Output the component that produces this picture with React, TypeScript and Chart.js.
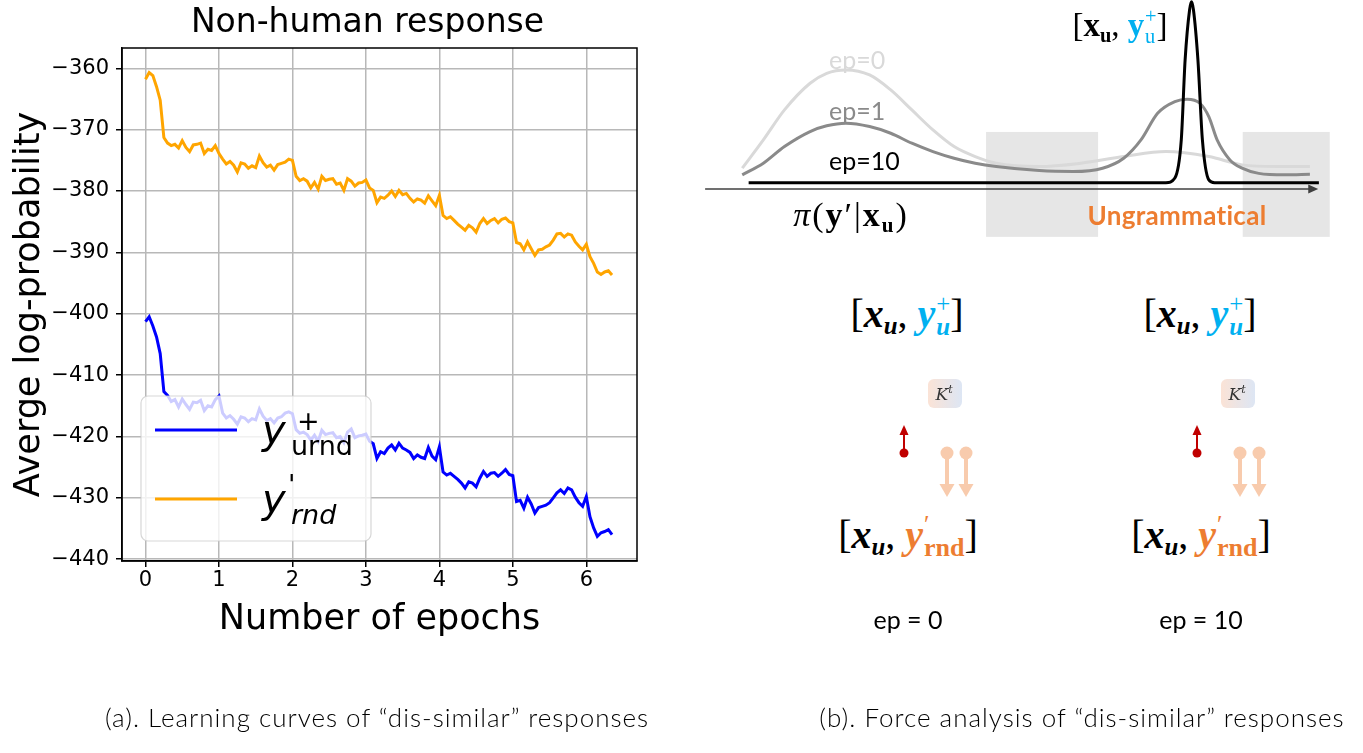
import React, { useEffect, useRef } from "react";
import { Chart, registerables } from "chart.js";

Chart.register(...registerables);

// ---------------- (a) learning curves ----------------
const EPOCH_STEP = 0.05;
const xTickValues = [0, 1, 2, 3, 4, 5, 6];
const yTickValues = [-440, -430, -420, -410, -400, -390, -380, -370, -360];
const X_MIN = -0.32;
const X_MAX = 6.69;
const Y_MIN = -440.3;
const Y_MAX = -356.7;

// y+_urnd (blue)
const urndValues = [
  -401.3, -400.5, -402.0, -403.8, -406.5, -412.7, -413.3, -414.3, -414.0, -415.2,
  -413.9, -414.8, -415.6, -414.4, -414.5, -414.1, -415.8, -415.0, -415.2, -414.0,
  -413.4, -416.2, -417.0, -416.6, -417.2, -418.0, -416.8, -417.0, -417.6, -417.1,
  -417.3, -415.5, -416.7, -417.4, -417.1, -417.8, -417.0, -416.8, -416.2, -416.0,
  -416.3, -418.9, -419.5, -419.3, -419.7, -420.6, -419.8, -420.8, -419.0, -419.7,
  -419.5, -419.4, -420.2, -420.0, -421.0, -419.3, -418.8, -420.2, -419.9, -419.8,
  -419.6, -420.8, -421.2, -423.6, -422.5, -422.8, -421.9, -421.4, -422.2, -421.1,
  -421.9, -422.2, -422.6, -423.6, -423.0, -423.4, -423.6, -421.8, -423.2, -423.8,
  -421.7, -425.8, -426.3, -426.0, -426.5, -427.0, -427.6, -428.4, -427.4, -427.6,
  -428.2, -426.8, -425.7, -426.5, -426.0, -425.9, -426.5, -426.0, -425.4, -426.2,
  -426.4, -430.6, -430.4, -431.7, -429.9, -431.0, -432.5, -431.6, -431.4, -431.2,
  -430.8, -430.0, -429.2, -428.7, -429.3, -428.4, -428.7, -429.9, -430.8, -431.4,
  -429.8, -433.1, -434.9, -436.3, -435.7, -435.5, -435.2, -436.0,
];

// y'_rnd (orange)
const rndValues = [
  -361.8, -360.7, -361.2, -363.0, -365.2, -371.3, -372.2, -372.6, -372.4, -373.0,
  -371.8, -372.9, -373.6, -372.5, -372.4, -372.2, -373.9, -373.2, -373.4, -372.6,
  -373.9, -374.8, -375.6, -375.2, -375.8, -376.9, -375.4, -375.6, -376.3, -375.9,
  -376.2, -374.3, -375.4, -376.1, -375.8, -376.6, -375.7, -375.5, -375.3, -374.8,
  -375.0, -377.6, -378.3, -378.0, -378.4, -379.5, -378.6, -379.7, -377.6, -378.3,
  -378.1, -378.0, -378.9, -378.7, -379.9, -378.0, -378.4, -379.2, -378.7, -378.6,
  -378.2, -379.5, -379.9, -381.9, -381.0, -381.2, -380.7, -380.0, -380.9, -379.9,
  -380.6, -380.4, -381.2, -381.8, -381.3, -381.5, -382.0, -380.8, -381.6, -382.4,
  -380.7, -384.0, -384.5, -384.2, -384.8, -385.4, -385.9, -386.4, -385.6, -386.0,
  -386.7, -385.3, -384.5, -385.3, -384.8, -384.5, -385.2, -384.6, -384.4, -385.0,
  -385.2, -388.4, -388.6, -389.6, -388.3, -389.4, -390.5, -389.6, -389.5, -389.1,
  -388.8, -388.0, -387.0, -386.9, -387.5, -387.0, -387.2, -388.3, -389.0, -389.6,
  -388.7, -390.7, -391.8, -393.2, -393.6, -393.2, -393.0, -393.7,
];

// ---------------- (b) schematic distributions ----------------
const ep0X = [6.6, 9.9, 13.2, 17.2, 19.8, 22.8, 26.5, 29.8, 33.1, 36.4, 39.7, 43.0, 46.3, 53.0, 59.5, 66.2, 72.8, 79.5, 84.7, 90.0, 95.3];
const ep0Y = [11.2, 26.5, 42.7, 57.1, 62.5, 64.3, 61.6, 53.5, 42.7, 31.9, 22.9, 17.5, 13.9, 12.1, 13.9, 17.5, 20.2, 17.5, 13.0, 12.1, 12.1];
const ep1X = [6.6, 9.9, 13.2, 17.2, 19.8, 22.8, 26.5, 29.8, 33.1, 36.4, 39.7, 43.0, 46.3, 53.0, 58.3, 62.9, 66.2, 68.9, 71.5, 74.2, 76.1, 78.1, 79.5, 80.8, 82.8, 84.7, 87.3, 91.4, 95.3];
const ep1Y = [7.6, 13.9, 22.9, 31.0, 34.1, 35.5, 33.7, 30.1, 24.7, 20.2, 16.6, 13.9, 12.1, 9.9, 9.4, 11.2, 16.6, 26.5, 40.9, 47.2, 48.5, 46.3, 39.1, 26.5, 15.7, 11.2, 8.4, 7.6, 7.9];
const ep10X = [7.6, 72.8, 74.2, 75.2, 75.8, 76.5, 76.8, 77.1, 77.8, 78.5, 79.5, 80.4, 96.7];
const ep10Y = [3.4, 3.4, 5.9, 26.5, 69.7, 96.8, 101.1, 96.8, 69.7, 26.5, 4.9, 3.4, 3.4];
const ungrammaticalRegions = [
  { x0: 44.7, x1: 62.2, y0: -25.9, y1: 30.8 },
  { x0: 84.8, x1: 98.4, y0: -25.9, y1: 30.8 },
];
const AXIS_X0 = 0.8;
const AXIS_X1 = 96.6;

const ARIAL = '"DejaVu Sans", sans-serif';

const minus = (v: number) => String(v).replace("-", "\u2212");

const frameTitleLegendPlugin = {
  id: "mplDecor",
  afterDatasetsDraw(chart: any) {
    const { ctx, chartArea: ca } = chart;
    ctx.save();
    // legend box
    const bx = ca.left + 19;
    const by = ca.bottom - 165;
    const bw = 230;
    const bh = 145;
    ctx.beginPath();
    ctx.roundRect(bx, by, bw, bh, 7);
    ctx.fillStyle = "rgba(255,255,255,0.8)";
    ctx.fill();
    ctx.strokeStyle = "rgba(204,204,204,0.8)";
    ctx.lineWidth = 1.2;
    ctx.stroke();
    // samples
    ctx.lineWidth = 3;
    ctx.strokeStyle = "#0000ff";
    ctx.beginPath();
    ctx.moveTo(bx + 14, by + 34);
    ctx.lineTo(bx + 96, by + 34);
    ctx.stroke();
    ctx.strokeStyle = "#ffa500";
    ctx.beginPath();
    ctx.moveTo(bx + 14, by + 103);
    ctx.lineTo(bx + 96, by + 103);
    ctx.stroke();
    // labels
    ctx.fillStyle = "#000";
    ctx.textBaseline = "alphabetic";
    ctx.textAlign = "left";
    ctx.font = `italic 40px ${ARIAL}`;
    ctx.fillText("y", bx + 121, by + 48);
    ctx.font = `27px ${ARIAL}`;
    ctx.fillText("urnd", bx + 150, by + 59);
    ctx.fillText("+", bx + 156, by + 34);
    ctx.font = `italic 40px ${ARIAL}`;
    ctx.fillText("y", bx + 121, by + 117);
    ctx.font = `27px ${ARIAL}`;
    ctx.fillText("'", bx + 147, by + 98);
    ctx.font = `italic 27px ${ARIAL}`;
    ctx.fillText("rnd", bx + 150, by + 128);
    ctx.restore();
  },
  afterDraw(chart: any) {
    const { ctx, chartArea: ca } = chart;
    ctx.save();
    ctx.strokeStyle = "#000";
    ctx.lineWidth = 1.5;
    ctx.strokeRect(ca.left, ca.top, ca.right - ca.left, ca.bottom - ca.top);
    ctx.fillStyle = "#000";
    ctx.font = `33px ${ARIAL}`;
    ctx.textAlign = "center";
    ctx.textBaseline = "middle";
    ctx.fillText("Non-human response", (ca.left + ca.right) / 2 - 12, 23);
    ctx.restore();
  },
};

const schematicPlugin = {
  id: "schematic",
  beforeDatasetsDraw(chart: any) {
    const { ctx, scales } = chart;
    const sx = scales.x;
    const sy = scales.y;
    ctx.save();
    ctx.fillStyle = "#e6e6e6";
    for (const r of ungrammaticalRegions) {
      const x0 = sx.getPixelForValue(r.x0);
      const x1 = sx.getPixelForValue(r.x1);
      const y0 = sy.getPixelForValue(r.y1);
      const y1 = sy.getPixelForValue(r.y0);
      ctx.fillRect(x0, y0, x1 - x0, y1 - y0);
    }
    ctx.restore();
  },
  afterDatasetsDraw(chart: any) {
    const { ctx, scales } = chart;
    const sx = scales.x;
    const sy = scales.y;
    const y = sy.getPixelForValue(0);
    const x0 = sx.getPixelForValue(AXIS_X0);
    const x1 = sx.getPixelForValue(AXIS_X1);
    ctx.save();
    ctx.strokeStyle = "#404040";
    ctx.fillStyle = "#404040";
    ctx.lineWidth = 1.5;
    ctx.beginPath();
    ctx.moveTo(x0, y);
    ctx.lineTo(x1 - 6, y);
    ctx.stroke();
    ctx.beginPath();
    ctx.moveTo(x1, y);
    ctx.lineTo(x1 - 10, y - 4.5);
    ctx.lineTo(x1 - 10, y + 4.5);
    ctx.closePath();
    ctx.fill();
    ctx.restore();
  },
};

const pts = (xs: number[], ys: number[]) => xs.map((x, i) => ({ x, y: ys[i] }));

function SupSub({ sup, sub, supStyle, subStyle }: any) {
  return (
    <span
      style={{
        display: "inline-flex",
        flexDirection: "column",
        alignItems: "flex-start",
        fontSize: "0.62em",
        lineHeight: 0.95,
        verticalAlign: "0.62em",
        marginLeft: "0.04em",
      }}
    >
      <span style={supStyle}>{sup}</span>
      <span style={subStyle}>{sub}</span>
    </span>
  );
}

const abs = (left: number, top: number, extra: any = {}) => ({
  position: "absolute" as const,
  left,
  top,
  transform: "translate(-50%,-50%)",
  whiteSpace: "nowrap" as const,
  ...extra,
});

const CYAN = "#00b0f0";
const ORANGE = "#ed7d31";
const SERIF = '"Liberation Serif", "DejaVu Serif", serif';
const SANS = 'Lato, "Open Sans", sans-serif';

const subU = { fontSize: "0.62em", verticalAlign: "-0.3em" };

function PairPlus({ x, y }: { x: number; y: number }) {
  return (
    <div style={abs(x, y, { font: `40px ${SERIF}`, fontWeight: 700 })}>
      <span style={{ fontWeight: 400 }}>[</span>
      <i>x</i>
      <sub style={{ ...subU, fontStyle: "italic" }}>u</sub>
      <span style={{ fontWeight: 400 }}>, </span>
      <span style={{ color: CYAN, fontStyle: "italic" }}>
        y
        <SupSub sup="+" sub="u" supStyle={{ fontStyle: "normal", fontWeight: 400 }} />
      </span>
      <span style={{ fontWeight: 400 }}>]</span>
    </div>
  );
}

function PairRnd({ x, y }: { x: number; y: number }) {
  return (
    <div style={abs(x, y, { font: `40px ${SERIF}`, fontWeight: 700 })}>
      <span style={{ fontWeight: 400 }}>[</span>
      <i>x</i>
      <sub style={{ ...subU, fontStyle: "italic" }}>u</sub>
      <span style={{ fontWeight: 400 }}>, </span>
      <span style={{ color: ORANGE }}>
        <i>y</i>
        <SupSub sup={"\u2032"} sub="rnd" supStyle={{ fontWeight: 400 }} subStyle={{ fontSize: "1.05em" }} />
      </span>
      <span style={{ fontWeight: 400 }}>]</span>
    </div>
  );
}

function ForceGroup({ dx }: { dx: number }) {
  const kx = 945 + dx;
  const rx = 904 + dx;
  const px1 = 947 + dx;
  const px2 = 966 + dx;
  return (
    <g>
      <defs>
        <linearGradient id={`kg${dx}`} x1="0" y1="0" x2="1" y2="0">
          <stop offset="0" stopColor="#fbe3d6" />
          <stop offset="1" stopColor="#dde6f4" />
        </linearGradient>
      </defs>
      <rect x={kx - 17} y={379} width={34} height={29} rx={6} fill={`url(#kg${dx})`} />
      <text x={kx - 1} y={400} textAnchor="middle" fontFamily='"DejaVu Serif", serif' fontStyle="italic" fontSize={17} fill="#333">
        K
        <tspan fontSize={11} dy={-7}>t</tspan>
      </text>
      <line x1={rx} y1={453} x2={rx} y2={434} stroke="#c00000" strokeWidth={2} />
      <polygon points={`${rx},${425} ${rx - 4.5},${435} ${rx + 4.5},${435}`} fill="#c00000" />
      <circle cx={rx} cy={453} r={4.5} fill="#c00000" />
      {[px1, px2].map((px) => (
        <g key={px}>
          <line x1={px} y1={453} x2={px} y2={485} stroke="#f8cbad" strokeWidth={4} />
          <polygon points={`${px},${497} ${px - 7.5},${484} ${px + 7.5},${484}`} fill="#f8cbad" />
          <circle cx={px} cy={453} r={6.5} fill="#f8cbad" />
        </g>
      ))}
    </g>
  );
}

export default function App() {
  const leftRef = useRef<HTMLCanvasElement>(null);
  const rightRef = useRef<HTMLCanvasElement>(null);

  useEffect(() => {
    const left = new Chart(leftRef.current as HTMLCanvasElement, {
      type: "line",
      data: {
        datasets: [
          {
            label: "y+urnd",
            data: urndValues.map((v, i) => ({ x: i * EPOCH_STEP, y: v })),
            borderColor: "#0000ff",
            borderWidth: 3,
            pointRadius: 0,
            tension: 0,
          },
          {
            label: "y'rnd",
            data: rndValues.map((v, i) => ({ x: i * EPOCH_STEP, y: v })),
            borderColor: "#ffa500",
            borderWidth: 3,
            pointRadius: 0,
            tension: 0,
          },
        ],
      },
      options: {
        animation: false,
        responsive: false,
        maintainAspectRatio: false,
        layout: { padding: { left: 0, right: 3, top: 48, bottom: 0 } },
        plugins: { legend: { display: false }, tooltip: { enabled: false }, title: { display: false } },
        scales: {
          x: {
            type: "linear",
            min: X_MIN,
            max: X_MAX,
            afterBuildTicks: (s: any) => {
              s.ticks = xTickValues.map((v) => ({ value: v }));
            },
            afterFit: (s: any) => {
              s.height = 89;
            },
            grid: { color: "#b8b8b8", lineWidth: 1.5, tickColor: "#000", tickLength: 6, drawTicks: true },
            border: { display: true, color: "#000", width: 1.5 },
            ticks: { color: "#000", font: { family: ARIAL, size: 21 }, padding: 1, maxRotation: 0, callback: (v: any) => minus(v) },
            title: { display: true, text: "Number of epochs", color: "#000", font: { family: ARIAL, size: 35 }, padding: { top: 0, bottom: 9 } },
          },
          y: {
            type: "linear",
            min: Y_MIN,
            max: Y_MAX,
            afterBuildTicks: (s: any) => {
              s.ticks = yTickValues.map((v) => ({ value: v }));
            },
            afterFit: (s: any) => {
              s.width = 122;
            },
            grid: { color: "#b8b8b8", lineWidth: 1.5, tickColor: "#000", tickLength: 6, drawTicks: true },
            border: { display: true, color: "#000", width: 1.5 },
            ticks: { color: "#000", font: { family: ARIAL, size: 21 }, padding: 7, callback: (v: any) => minus(v) },
            title: { display: true, text: "Averge log-probability", color: "#000", font: { family: ARIAL, size: 35 }, padding: { top: 9, bottom: 0 } },
          },
        },
      } as any,
      plugins: [frameTitleLegendPlugin],
    });

    const right = new Chart(rightRef.current as HTMLCanvasElement, {
      type: "line",
      data: {
        datasets: [
          { label: "ep=10", data: pts(ep10X, ep10Y), borderColor: "#000000", borderWidth: 3, pointRadius: 0, cubicInterpolationMode: "monotone" },
          { label: "ep=1", data: pts(ep1X, ep1Y), borderColor: "#8a8a8a", borderWidth: 3, pointRadius: 0, cubicInterpolationMode: "monotone" },
          { label: "ep=0", data: pts(ep0X, ep0Y), borderColor: "#d9d9d9", borderWidth: 3, pointRadius: 0, cubicInterpolationMode: "monotone" },
        ],
      },
      options: {
        animation: false,
        responsive: false,
        maintainAspectRatio: false,
        layout: { padding: 0 },
        plugins: { legend: { display: false }, tooltip: { enabled: false } },
        scales: {
          x: { type: "linear", display: false, min: 0, max: 100 },
          y: { type: "linear", display: false, min: -33, max: 102.1 },
        },
      } as any,
      plugins: [schematicPlugin],
    });

    return () => {
      left.destroy();
      right.destroy();
    };
  }, []);

  return (
    <div style={{ position: "fixed", left: 0, top: 0, width: 1363, height: 753, background: "#fff", overflow: "hidden" }}>
      <canvas ref={leftRef} width={640} height={650} style={{ position: "absolute", left: 0, top: 0, width: 640, height: 650 }} />
      <canvas ref={rightRef} width={640} height={250} style={{ position: "absolute", left: 700, top: 0, width: 640, height: 250 }} />

      {/* labels of the distribution sketch */}
      <div style={{ position: "absolute", left: 829, top: 59, transform: "translateY(-50%)", font: `25px ${SANS}`, color: "#d9d9d9" }}>ep=0</div>
      <div style={{ position: "absolute", left: 829, top: 110, transform: "translateY(-50%)", font: `25px ${SANS}`, color: "#8a8a8a" }}>ep=1</div>
      <div style={{ position: "absolute", left: 829, top: 160, transform: "translateY(-50%)", font: `25px ${SANS}`, color: "#000" }}>ep=10</div>

      <div style={abs(1120, 27, { font: `33px ${SERIF}` })}>
        [<b>x</b>
        <sub style={{ ...subU, fontWeight: 700 }}>u</sub>,{" "}
        <span style={{ color: CYAN, fontWeight: 700 }}>
          y<SupSub sup="+" sub="u" supStyle={{ fontWeight: 400 }} subStyle={{ fontWeight: 400 }} />
        </span>
        ]
      </div>

      <div style={abs(851, 217, { font: `34px ${SERIF}`, letterSpacing: "2px" })}>
        <i>π</i>(<b>y</b>′|<b>x</b>
        <sub style={{ ...subU, fontWeight: 700 }}>u</sub>)
      </div>

      <div style={abs(1177, 215, { font: `700 26px ${SANS}`, color: ORANGE, letterSpacing: "0.3px" })}>Ungrammatical</div>

      {/* force analysis */}
      <PairPlus x={907} y={315} />
      <PairPlus x={1200} y={315} />
      <PairRnd x={908} y={536} />
      <PairRnd x={1201} y={536} />

      <svg width={1363} height={753} style={{ position: "absolute", left: 0, top: 0, pointerEvents: "none" }}>
        <ForceGroup dx={0} />
        <ForceGroup dx={293} />
      </svg>

      <div style={abs(908, 619, { font: `25px ${SANS}`, color: "#000" })}>ep = 0</div>
      <div style={abs(1201, 619, { font: `25px ${SANS}`, color: "#000" })}>ep = 10</div>

      {/* captions */}
      <div style={abs(377, 717, { font: `300 26px ${SANS}`, color: "#000", letterSpacing: "1px" })}>(a). Learning curves of “dis-similar” responses</div>
      <div style={abs(1082, 717, { font: `300 26px ${SANS}`, color: "#000", letterSpacing: "1px" })}>(b). Force analysis of “dis-similar” responses</div>
    </div>
  );
}
